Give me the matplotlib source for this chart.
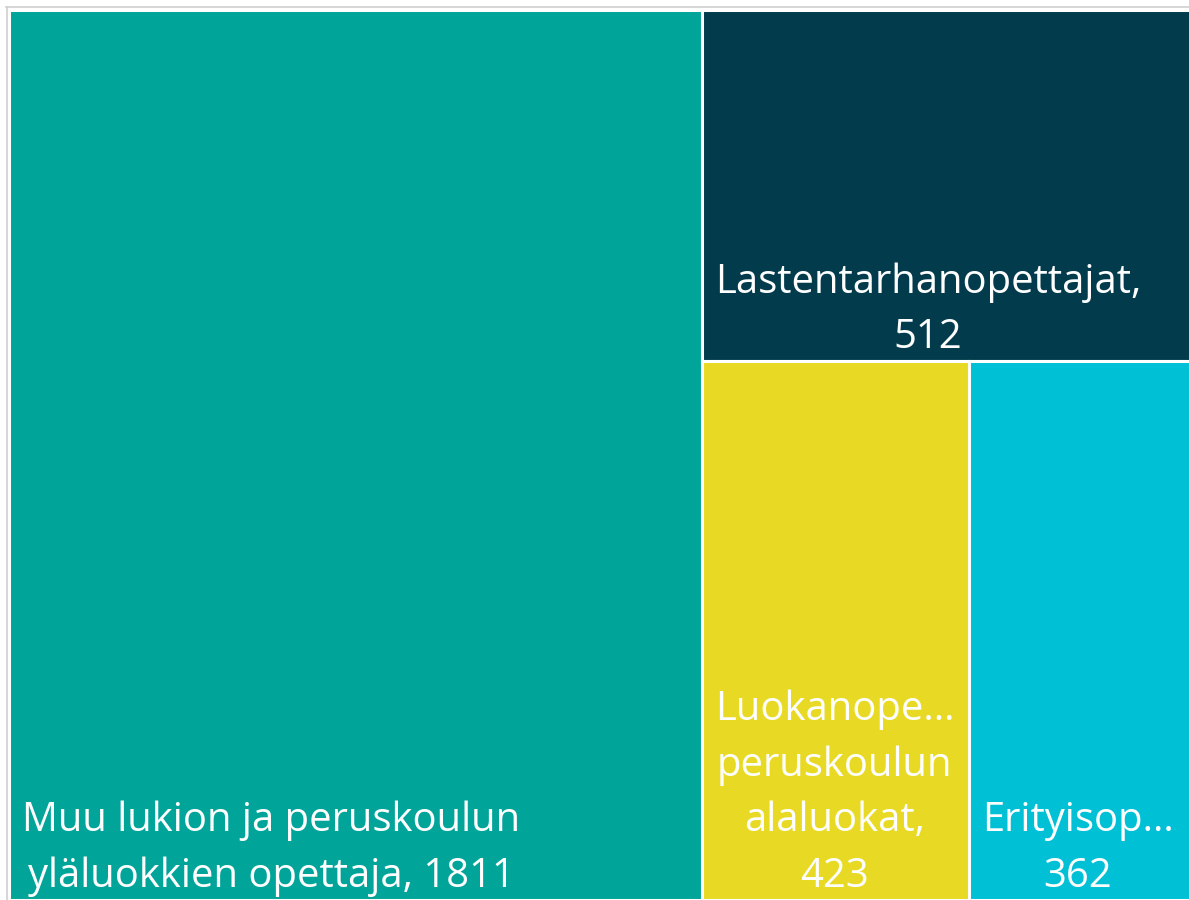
import matplotlib
matplotlib.use("Agg")
import matplotlib.pyplot as plt
from matplotlib.patches import Rectangle
from matplotlib.lines import Line2D

# treemap data
labels = [
    "Muu lukion ja peruskoulun\nyläluokkien opettaja, 1811",
    "Lastentarhanopettajat,\n512",
    "Luokanope...\nperuskoulun\nalaluokat,\n423",
    "Erityisop...\n362",
]
values = [1811, 512, 423, 362]
colors = ["#01A499", "#013B4C", "#E8DA24", "#00C0D6"]


def alt_layout(vals, x, y, w, h):
    # each item takes its share of what is left, cut direction alternates
    rects = []
    rest = float(sum(vals))
    vertical_cut = w >= h
    for i, v in enumerate(vals):
        if i == len(vals) - 1:
            rects.append((x, y, w, h))
            break
        f = v / rest
        if vertical_cut:
            rects.append((x, y, w * f, h))
            x += w * f
            w -= w * f
        else:
            rects.append((x, y, w, h * f))
            y += h * f
            h -= h * f
        rest -= v
        vertical_cut = not vertical_cut
    return rects


W, H = 1189.0, 890.0
rects = alt_layout(values, 0, 0, W, H)

fig = plt.figure(figsize=(11.89, 9.0), dpi=100)
ax = fig.add_axes([9 / 1189, 0, 1189 / 1189, 890 / 900])
ax.set_xlim(0, W)
ax.set_ylim(H, 0)
ax.axis("off")

for (x, y, w, h), lab, c in zip(rects, labels, colors):
    ax.add_patch(Rectangle((x, y), w, h, facecolor=c, edgecolor="white", linewidth=2.2))
    ax.text(x + 13, y + h - 3, lab, color="white", fontsize=28.8,
            family=["Open Sans", "DejaVu Sans"], ha="left", va="bottom",
            multialignment="center", linespacing=1.5)

# thin frame at top and left
fig.add_artist(Line2D([6 / 1189, 1], [1 - 6.5 / 900, 1 - 6.5 / 900], color="#D0D0D0", lw=1.2))
fig.add_artist(Line2D([6.5 / 1189, 6.5 / 1189], [0, 1 - 6.5 / 900], color="#D0D0D0", lw=1.2))

fig.savefig("out.png", dpi=100)
